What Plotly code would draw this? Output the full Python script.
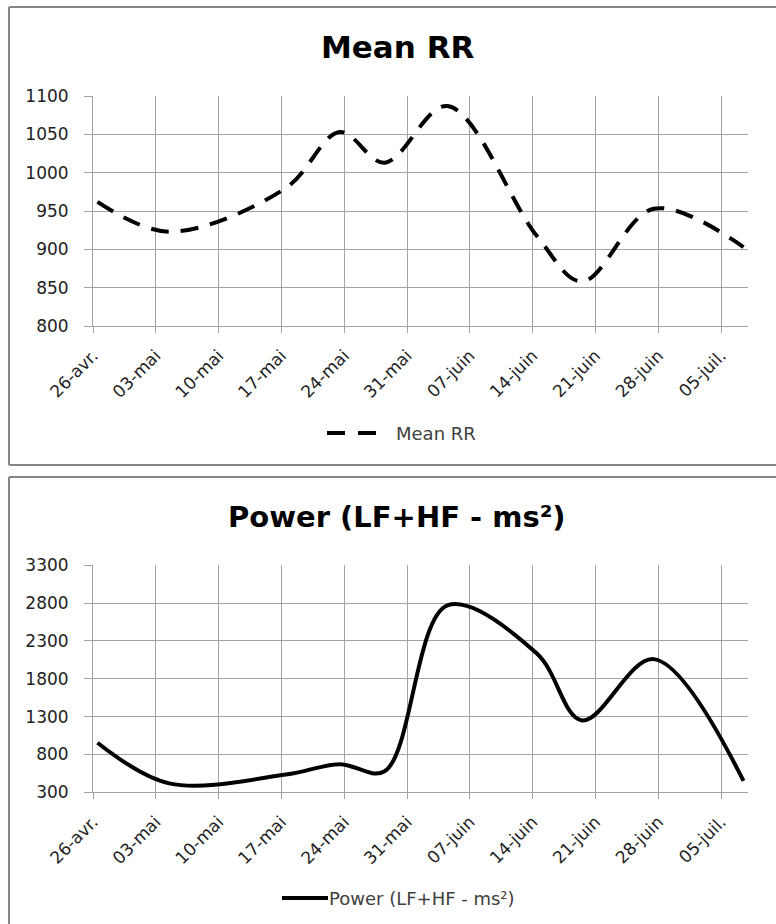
import pandas as pd
import plotly.graph_objects as go

# ---- data -------------------------------------------------------------
session_dates = ["2010-04-26", "2010-05-04", "2010-05-17", "2010-05-23",
                 "2010-05-28", "2010-06-04", "2010-06-14", "2010-06-19",
                 "2010-06-27", "2010-07-07"]
mean_rr = [962, 923, 980, 1053, 1013, 1087, 917, 858, 953, 903]
power_lf_hf = [955, 418, 535, 672, 578, 2770, 2130, 1250, 2060, 450]

week_ticks = ["2010-04-26", "2010-05-03", "2010-05-10", "2010-05-17",
              "2010-05-24", "2010-05-31", "2010-06-07", "2010-06-14",
              "2010-06-21", "2010-06-28", "2010-07-05"]
week_labels = ["26-avr.", "03-mai", "10-mai", "17-mai", "24-mai", "31-mai",
               "07-juin", "14-juin", "21-juin", "28-juin", "05-juil."]

x_range = ["2010-04-26", "2010-07-08"]
rr_ticks = [800, 850, 900, 950, 1000, 1050, 1100]
power_ticks = [300, 800, 1300, 1800, 2300, 2800, 3300]

# each day is a slot on the date axis; points sit in the middle of their day
x_points = pd.to_datetime(session_dates) + pd.Timedelta(hours=12)

# ---- page geometry (pixels) ------------------------------------------
W, H = 776, 924


def fx(px):
    return px / W


def fy(py):
    return 1 - py / H


FONT = "DejaVu Sans"
GRID = "#a3a3a3"
FRAME = "#878787"
TXT = "#222222"
LEG_TXT = "#404040"

fig = go.Figure()

fig.add_trace(go.Scatter(
    x=x_points, y=mean_rr, mode="lines", name="Mean RR",
    line=dict(color="black", width=4, dash="18px,12px",
              shape="spline", smoothing=1.0),
    xaxis="x", yaxis="y", showlegend=False))

fig.add_trace(go.Scatter(
    x=x_points, y=power_lf_hf, mode="lines",
    name="Power (LF+HF - ms²)",
    line=dict(color="black", width=4, shape="spline", smoothing=1.0),
    xaxis="x2", yaxis="y2", showlegend=False))


def x_axis(anchor):
    return dict(type="date", range=x_range, domain=[fx(93), fx(748)],
                anchor=anchor, tickmode="array", tickvals=week_ticks,
                ticktext=week_labels, tickangle=-45, automargin=False,
                showgrid=True, gridcolor=GRID, gridwidth=1,
                showline=True, linecolor=GRID, linewidth=1,
                ticks="outside", ticklen=6, tickcolor=GRID, tickwidth=1,
                ticklabelstandoff=6,
                tickfont=dict(family=FONT, size=17, color=TXT),
                zeroline=False, fixedrange=True)


def y_axis(anchor, rng, ticks, dom):
    return dict(range=rng, domain=dom, anchor=anchor, automargin=False,
                tickmode="array", tickvals=ticks,
                showgrid=True, gridcolor=GRID, gridwidth=1,
                showline=True, linecolor=GRID, linewidth=1,
                ticks="outside", ticklen=8, tickcolor=GRID, tickwidth=1,
                ticklabelstandoff=12,
                tickfont=dict(family=FONT, size=17, color=TXT),
                zeroline=False, fixedrange=True)


shapes = []


def edge(x0, y0, x1, y1):
    shapes.append(dict(type="line", xref="paper", yref="paper",
                       x0=fx(x0), y0=fy(y0), x1=fx(x1), y1=fy(y1),
                       line=dict(color=FRAME, width=2)))


# chart frames
edge(9, 7, 9, 465)
edge(9, 7, 780, 7)
edge(9, 465, 780, 465)
edge(9, 477, 9, 930)
edge(9, 477, 780, 477)

# legend samples
shapes.append(dict(type="line", xref="paper", yref="paper",
                   x0=fx(327), y0=fy(433), x1=fx(376), y1=fy(433),
                   line=dict(color="black", width=4, dash="18px,13px")))
shapes.append(dict(type="line", xref="paper", yref="paper",
                   x0=fx(282), y0=fy(898), x1=fx(328), y1=fy(898),
                   line=dict(color="black", width=4)))

annotations = [
    dict(text="<b>Mean RR</b>", x=fx(398), y=fy(47), xref="paper",
         yref="paper", xanchor="center", yanchor="middle", showarrow=False,
         font=dict(family=FONT, size=31, color="black")),
    dict(text="<b>Power (LF+HF - ms²)</b>", x=fx(397), y=fy(517),
         xref="paper", yref="paper", xanchor="center", yanchor="middle",
         showarrow=False, font=dict(family=FONT, size=29, color="black")),
    dict(text="Mean RR", x=fx(394), y=fy(433), xref="paper", yref="paper",
         xanchor="left", yanchor="middle", showarrow=False,
         font=dict(family=FONT, size=18, color=LEG_TXT)),
    dict(text="Power (LF+HF - ms²)", x=fx(327), y=fy(898), xref="paper",
         yref="paper", xanchor="left", yanchor="middle", showarrow=False,
         font=dict(family=FONT, size=18, color=LEG_TXT)),
]

fig.update_layout(
    width=W, height=H, autosize=False,
    margin=dict(l=0, r=0, t=0, b=0, pad=0, autoexpand=False),
    paper_bgcolor="white", plot_bgcolor="white",
    showlegend=False,
    xaxis=x_axis("y"),
    yaxis=y_axis("x", [800, 1100], rr_ticks, [fy(326), fy(96)]),
    xaxis2=x_axis("y2"),
    yaxis2=y_axis("x2", [300, 3300], power_ticks, [fy(792.3), fy(565.3)]),
    shapes=shapes,
    annotations=annotations,
)

fig.write_html("out.html", config={"displayModeBar": False})
